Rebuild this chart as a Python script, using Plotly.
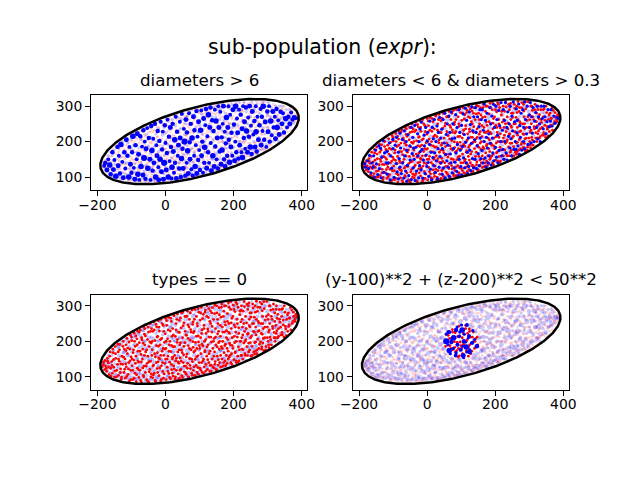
import numpy as np
import plotly.graph_objects as go

# ---------------- data ----------------
# type-0 particles (red), (y, z)
red_pts = [
(-186,128),(-182,141),(-179,120),
(-176,131),(-173,115),(-171,152),(-168,139),(-166,106),(-163,170),(-161,124),
(-158,143),(-156,110),(-154,168),(-152,127),(-150,99),(-148,185),(-146,152),(-143,118),(-141,135),
(-139,170),(-138,104),(-136,144),(-134,191),(-132,122),(-130,93),(-128,158),(-126,135),(-124,200),(-122,112),(-121,178),
(-119,150),(-118,96),(-116,190),(-115,128),(-113,208),(-112,165),(-110,107),(-108,140),(-106,88),(-105,178),(-103,217),(-102,118),(-101,156),
(-99,202),(-98,131),(-96,92),(-95,168),(-93,147),(-92,223),(-90,110),(-89,186),(-87,158),(-86,86),(-84,207),(-83,124),(-82,229),(-81,172),
(-79,141),(-78,98),(-77,196),(-75,118),(-74,232),(-72,163),(-71,85),(-70,210),(-68,150),(-67,178),(-65,104),(-64,240),(-63,130),(-62,220),(-61,190),
(-59,112),(-58,170),(-57,246),(-55,92),(-54,138),(-53,205),(-52,158),(-50,226),(-49,84),(-48,185),(-46,121),(-45,250),(-44,144),(-43,100),(-42,195),(-41,236),
(-39,176),(-38,97),(-37,228),(-35,133),(-34,255),(-33,110),(-31,202),(-30,156),(-29,87),(-27,188),(-26,241),(-25,123),(-24,168),(-23,214),(-22,142),(-21,258),
(-19,103),(-18,229),(-17,150),(-16,190),(-14,88),(-13,262),(-12,131),(-11,208),(-10,172),(-8,115),(-7,245),(-6,96),(-5,160),(-3,197),(-2,138),(-1,221),(0,265),
(1,180),(2,92),(4,245),(5,127),(6,207),(7,158),(9,268),(10,109),(11,190),(12,141),(14,229),(15,95),(16,171),(17,256),(18,120),(19,214),(20,150),
(21,236),(22,102),(23,184),(24,131),(25,272),(27,160),(28,93),(29,214),(30,145),(31,250),(32,118),(34,197),(35,277),(36,170),(37,108),(38,226),(39,138),(40,259),
(41,96),(42,190),(43,153),(44,266),(45,121),(46,238),(47,175),(48,103),(50,210),(51,283),(52,140),(53,162),(54,252),(55,114),(57,196),(58,228),(59,130),(60,271),
(61,107),(62,217),(63,164),(64,285),(65,138),(66,246),(67,188),(68,100),(70,262),(71,151),(72,203),(73,123),(74,233),(75,176),(77,110),(78,288),(79,143),(80,199),
(81,255),(82,118),(83,170),(84,228),(85,104),(86,290),(87,149),(88,197),(90,132),(91,270),(92,180),(93,112),(94,243),(95,159),(96,215),(97,107),(98,282),(99,188),
(101,124),(102,260),(103,210),(104,165),(105,296),(106,140),(107,232),(108,112),(110,187),(111,276),(112,150),(113,245),(114,128),(115,200),(116,174),(117,288),(118,116),(119,222),
(121,158),(122,300),(123,121),(124,235),(125,190),(126,267),(127,140),(128,212),(130,115),(131,172),(132,286),(133,250),(134,133),(135,198),(136,226),(137,150),(138,295),(139,180),
(141,262),(142,125),(143,208),(144,170),(145,302),(146,143),(147,236),(148,190),(150,120),(151,280),(152,158),(153,221),(154,250),(155,133),(156,196),(157,295),(158,178),(159,140),
(161,214),(162,127),(163,268),(164,185),(165,305),(166,150),(167,240),(168,200),(170,131),(171,285),(172,168),(173,226),(174,255),(175,145),(176,192),(177,300),(178,160),(179,230),
(181,138),(182,278),(183,205),(184,172),(185,308),(186,250),(187,155),(188,222),(190,190),(191,290),(192,140),(193,236),(194,165),(195,265),(196,210),(198,180),(199,302),
(201,148),(202,246),(203,196),(204,284),(205,170),(206,226),(207,310),(208,140),(210,262),(211,212),(212,158),(213,296),(214,184),(215,238),(216,145),(218,275),(219,200),
(221,255),(222,160),(223,300),(224,210),(225,178),(226,240),(227,150),(228,285),(230,195),(231,312),(232,228),(233,165),(235,270),(236,205),(238,252),(239,185),
(241,160),(242,290),(243,222),(244,195),(245,308),(246,262),(247,175),(248,240),(250,210),(251,158),(252,280),(254,186),(255,250),(256,305),(258,228),(259,170),
(261,268),(262,196),(263,300),(264,172),(265,240),(266,218),(267,313),(268,165),(270,285),(271,206),(272,256),(274,180),(275,230),(277,296),(279,198),
(281,250),(282,178),(283,305),(284,220),(285,270),(286,195),(287,236),(288,174),(290,292),(291,210),(293,260),(295,185),(297,312),(299,240),
(301,200),(302,275),(303,226),(304,182),(305,300),(306,250),(307,212),(309,288),(311,190),(313,262),(315,236),(317,305),(319,210),
(321,280),(322,200),(324,245),(325,222),(326,300),(328,265),(330,210),(332,236),(334,290),(336,254),(339,218),
(341,270),(342,225),(344,292),(346,246),(348,212),(351,282),(353,235),(356,262),(359,228),
(361,280),(363,246),(365,265),(368,232),(371,288),(374,256),(377,270),
(380,262),(383,276),(386,268),
(-183,134),(-178,146),
(-174,124),(-170,144),(-167,128),(-164,158),(-160,102),
(-157,132),(-155,178),(-153,148),(-149,116),(-147,165),(-144,100),(-140,192),
(-138,150),(-135,176),(-133,112),(-131,136),(-129,99),(-125,186),(-123,155),(-120,121),
(-117,136),(-116,174),(-114,101),(-111,181),(-109,122),(-107,198),(-104,145),(-102,92),(-100,212),
(-98,150),(-96,118),(-94,176),(-92,96),(-91,200),(-88,138),(-87,215),(-85,106),(-83,190),(-81,145),
(-79,120),(-77,226),(-75,172),(-73,90),(-71,142),(-69,204),(-67,125),(-66,195),(-64,100),(-62,160),(-61,236),
(-59,215),(-57,130),(-55,176),(-53,88),(-51,240),(-49,142),(-48,114),(-46,198),(-44,228),(-42,108),(-40,160),
(-39,200),(-37,130),(-36,105),(-33,232),(-32,165),(-30,90),(-28,248),(-27,140),(-25,212),(-23,112),(-21,186),(-20,153),
(-19,240),(-17,125),(-15,205),(-14,160),(-12,92),(-10,250),(-9,140),(-7,180),(-5,228),(-4,108),(-2,178),(0,150),
(2,200),(3,258),(5,150),(7,115),(8,232),(10,172),(12,98),(13,200),(15,265),(17,135),(18,188),(20,110),
(21,155),(23,218),(24,275),(26,122),(27,185),(29,100),(31,232),(32,152),(33,262),(35,205),(37,142),(38,92),(40,176),
(41,225),(43,118),(44,196),(46,144),(47,280),(49,168),(50,98),(52,244),(54,186),(55,130),(57,270),(58,112),(60,218),
(61,156),(63,270),(64,124),(66,208),(67,98),(69,240),(70,180),(72,132),(73,280),(75,226),(77,150),(78,104),(80,248),
(81,183),(82,224),(84,128),(85,262),(87,174),(88,102),(90,214),(91,156),(93,250),(95,126),(96,292),(97,198),(99,140),
(101,180),(103,280),(104,118),(106,222),(107,192),(109,264),(110,145),(112,110),(113,236),(115,170),(116,282),(118,205),(119,135),
(121,270),(122,184),(124,148),(125,228),(127,292),(128,165),(130,256),(131,132),(133,212),(134,116),(136,280),(137,242),(139,128),
(141,200),(142,158),(144,278),(145,135),(147,212),(148,120),(150,300),(152,184),(153,262),(155,148),(156,228),(158,275),(159,200),
(161,245),(162,160),(164,296),(165,128),(167,180),(168,226),(170,270),(171,140),(173,300),(174,188),(176,246),(177,132),(179,210),
(181,180),(182,256),(184,150),(185,226),(187,296),(188,195),(190,160),(192,312),(193,252),(195,135),(196,188),(198,270),
(201,290),(202,214),(204,168),(205,240),(207,145),(208,200),(210,305),(211,250),(213,142),(215,222),(217,176),(219,285),
(221,200),(222,288),(224,160),(225,262),(227,218),(228,176),(230,250),(232,298),(234,200),(235,160),(237,236),(239,305),
(241,220),(243,300),(244,170),(246,244),(248,280),(249,196),(251,268),(253,215),(255,160),(257,294),(259,250),
(261,226),(262,164),(264,282),(265,198),(267,262),(269,176),(271,296),(272,228),(274,252),(276,192),(278,310),
(281,222),(283,184),(284,286),(286,250),(287,208),(289,312),(292,240),(294,176),(296,270),(299,210),
(301,262),(303,190),(305,232),(307,300),(309,205),(311,270),(314,242),(316,290),(319,225),
(321,256),(323,210),(325,290),(327,230),(330,276),(332,214),(335,262),(338,240),
(341,290),(343,218),(346,260),(349,300),(352,242),(355,216),(358,275),
(362,242),(364,266),(367,295),(372,250),(376,282),
(381,256),(385,274),
]

# type-1 particles with medium diameters (blue), (y, z)
blue_pts = [
(-184,138),(-181,128),
(-175,146),(-172,124),(-169,161),(-165,112),(-162,140),
(-159,128),(-157,160),(-155,100),(-151,176),(-149,137),(-145,107),(-142,188),
(-140,124),(-137,181),(-135,98),(-133,156),(-129,203),(-127,113),(-125,168),(-120,140),
(-118,172),(-117,108),(-114,140),(-111,196),(-109,92),(-107,160),(-104,125),(-101,206),(-100,180),
(-97,99),(-94,190),(-91,138),(-90,212),(-88,115),(-85,170),(-84,95),(-82,152),(-80,224),(-80,128),
(-78,182),(-76,110),(-73,206),(-72,140),(-69,97),(-67,230),(-66,160),(-63,117),(-62,200),(-60,88),(-60,175),
(-58,133),(-56,220),(-54,104),(-51,188),(-50,148),(-47,240),(-47,93),(-44,166),(-42,212),(-41,126),(-40,182),
(-38,150),(-36,246),(-35,90),(-33,184),(-31,117),(-28,222),(-27,160),(-25,98),(-24,200),(-22,132),(-21,236),(-20,172),
(-18,120),(-17,255),(-15,178),(-13,97),(-11,148),(-9,218),(-8,188),(-6,110),(-4,240),(-3,162),(-1,130),(0,202),
(2,226),(3,141),(5,102),(7,192),(8,258),(10,122),(12,170),(13,92),(15,240),(17,155),(18,208),(20,132),
(21,262),(22,168),(24,113),(26,200),(27,146),(29,244),(31,95),(32,180),(33,226),(35,128),(37,268),(38,158),(40,210),
(41,140),(43,235),(44,108),(45,180),(47,262),(48,126),(50,196),(52,280),(53,98),(55,164),(56,220),(58,146),(59,250),
(61,190),(62,128),(64,272),(65,102),(67,226),(68,165),(70,140),(71,284),(73,208),(74,112),(76,250),(77,180),(79,126),
(81,210),(82,142),(84,276),(85,168),(87,116),(88,240),(89,192),(91,104),(93,290),(94,150),(96,226),(97,176),(99,130),
(101,246),(102,106),(104,186),(106,278),(107,154),(109,220),(110,126),(112,294),(113,198),(115,140),(116,260),(118,170),(119,110),
(121,210),(122,130),(124,284),(125,176),(127,248),(128,118),(130,195),(131,298),(133,152),(134,230),(136,126),(137,270),(139,205),
(141,150),(142,296),(144,226),(145,124),(147,188),(148,270),(150,166),(152,242),(153,132),(155,290),(156,210),(158,152),(159,262),
(161,175),(162,290),(164,140),(165,232),(167,200),(168,306),(170,154),(171,260),(173,128),(174,212),(176,280),(177,182),(179,140),
(181,222),(182,160),(184,296),(185,195),(187,250),(188,134),(190,272),(192,210),(193,168),(195,305),(196,146),(198,240),
(201,184),(202,300),(204,156),(205,262),(207,218),(208,140),(210,288),(211,175),(213,245),(215,200),(217,310),(219,160),
(221,232),(222,178),(224,290),(225,150),(227,260),(228,200),(230,310),(232,168),(234,240),(235,148),(237,284),(239,215),
(241,250),(243,182),(244,300),(246,208),(248,160),(249,272),(251,230),(253,312),(255,178),(257,256),(259,200),
(261,178),(262,292),(264,225),(265,260),(267,188),(269,306),(271,164),(272,245),(274,212),(276,280),(278,176),
(281,290),(283,200),(284,240),(286,312),(287,180),(289,262),(292,222),(294,300),(296,192),(299,275),
(301,240),(303,310),(305,196),(307,270),(309,224),(311,296),(314,200),(316,258),(319,282),
(321,240),(323,300),(325,208),(327,270),(330,250),(332,200),(335,300),(338,265),
(341,236),(343,300),(346,270),(349,222),(352,256),(355,290),(358,242),
(362,258),(364,290),(367,244),(372,272),(376,252),
(382,268),(387,264),
]

# type-1 particles with large diameters (blue), (y, z, diameter)
big_pts = [
(-180,132,7),(-177,140,8),
(-172,120,9),(-168,150,7),(-164,134,10),(-161,108,8),
(-156,170,8),(-153,121,9),(-150,148,7),(-146,102,10),(-141,185,8),
(-139,132,9),(-137,160,7),(-134,110,8),(-131,192,10),(-127,143,7),(-124,98,9),(-121,170,8),
(-118,124,7),(-115,205,9),(-112,160,8),(-108,100,10),(-106,185,7),(-103,136,9),(-100,112,8),
(-98,170,8),(-96,215,10),(-93,126,7),(-90,94,9),(-88,190,8),(-85,150,7),(-83,222,9),(-81,108,10),
(-79,164,9),(-77,92,7),(-74,215,8),(-72,130,10),(-69,186,7),(-66,106,9),(-65,232,8),(-63,154,11),(-61,200,7),
(-59,95,8),(-57,180,9),(-54,238,7),(-52,125,10),(-49,210,8),(-46,150,9),(-44,92,7),(-42,244,8),(-40,175,10),
(-38,118,8),(-36,208,7),(-34,140,9),(-31,250,8),(-29,100,10),(-27,190,7),(-25,160,9),(-23,230,8),(-21,128,7),(-20,92,9),
(-18,202,8),(-16,150,10),(-14,256,7),(-12,115,9),(-10,178,8),(-8,228,7),(-6,94,9),(-4,140,11),(-2,246,8),(0,196,7),
(2,120,9),(4,168,8),(6,262,7),(8,100,10),(10,214,8),(12,145,7),(14,240,9),(16,185,8),(18,96,7),(19,128,10),
(21,250,8),(23,172,9),(25,112,7),(27,205,10),(28,140,8),(30,270,7),(32,96,9),(34,228,8),(36,160,7),(38,190,9),(40,124,8),
(42,256,7),(43,210,9),(45,100,8),(47,152,10),(48,278,7),(50,180,8),(52,124,9),(54,236,7),(56,200,11),(58,104,8),(60,262,9),
(62,140,7),(63,226,8),(65,174,10),(67,110,9),(69,280,7),(71,198,8),(72,150,9),(74,250,8),(76,122,7),(78,210,10),(80,104,8),
(82,270,9),(84,160,7),(85,232,8),(87,130,10),(89,190,7),(91,286,8),(92,110,9),(94,214,7),(96,148,8),(97,256,9),(99,176,7),
(101,120,8),(103,232,10),(105,288,7),(106,160,9),(108,200,8),(110,112,7),(112,265,9),(114,140,8),(115,184,10),(117,246,7),(119,292,8),
(121,125,9),(123,215,7),(125,170,8),(126,276,10),(128,140,7),(130,240,9),(132,296,8),(133,196,7),(135,118,9),(137,260,8),(139,160,10),
(141,230,8),(143,130,9),(145,290,7),(146,186,8),(148,258,10),(150,150,7),(152,210,9),(154,124,8),(155,300,7),(157,240,9),(159,172,8),
(161,284,7),(163,136,9),(165,212,8),(166,176,10),(168,250,7),(170,300,9),(172,150,8),(174,228,7),(175,130,9),(177,195,8),(179,268,10),
(181,160,8),(183,240,9),(185,300,7),(186,205,8),(188,142,10),(190,276,7),(192,185,9),(194,225,8),(196,160,7),(198,290,9),
(201,248,8),(203,146,9),(205,200,7),(206,300,10),(208,170,8),(210,265,7),(212,225,9),(214,152,8),(216,290,7),(218,190,9),
(221,276,8),(223,170,7),(225,236,9),(226,155,10),(228,300,7),(230,210,8),(232,256,9),(234,180,7),(236,296,8),(238,230,10),
(241,170,9),(243,268,7),(245,214,8),(247,300,9),(249,185,10),(251,245,7),(253,165,8),(255,285,9),(258,220,7),
(261,258,8),(263,185,9),(265,300,7),(266,228,10),(268,172,8),(270,270,7),(273,205,9),(276,246,8),(279,292,7),
(281,190,9),(283,270,8),(285,230,7),(287,300,10),(290,205,8),(293,255,9),(296,185,7),(299,285,8),
(301,228,9),(304,300,7),(306,200,8),(309,258,10),(312,218,7),(315,285,9),(318,240,8),
(321,270,7),(323,208,9),(326,292,8),(328,240,10),(331,260,7),(334,220,9),(338,284,8),
(342,250,9),(345,280,7),(348,226,8),(353,265,10),(357,240,7),
(361,270,8),(365,250,9),(369,282,7),(373,262,8),
(378,268,9),(383,266,7),
]

RED_DIAM = 5.0      # diameter of the type-0 particles
BLUE_DIAM = 5.8     # diameter of the medium type-1 particles

# container ellipse (center y, center z, width, height, angle in degrees)
ELLIPSE = dict(cy=100.0, cz=200.0, width=600.0, height=194.0, angle=14.5)

SUPTITLE = "sub-population (<i>expr</i>):"
TITLES = ["diameters > 6", "diameters < 6 & diameters > 0.3",
          "types == 0", "(y-100)**2 + (z-200)**2 < 50**2"]
X_TICKS = [-200, 0, 200, 400]
X_TICKTEXT = ["\u2212200", "0", "200", "400"]
Y_TICKS = [100, 200, 300]
Y_TICKTEXT = ["100", "200", "300"]

# ---------------- assemble the population ----------------
y = np.array([p[0] for p in red_pts] + [p[0] for p in blue_pts] + [p[0] for p in big_pts], float)
z = np.array([p[1] for p in red_pts] + [p[1] for p in blue_pts] + [p[1] for p in big_pts], float)
diameters = np.array([RED_DIAM] * len(red_pts) + [BLUE_DIAM] * len(blue_pts) + [p[2] for p in big_pts], float)
types = np.array([0] * len(red_pts) + [1] * (len(blue_pts) + len(big_pts)))

masks = [
    diameters > 6,
    (diameters < 6) & (diameters > 0.3),
    types == 0,
    (y - 100) ** 2 + (z - 200) ** 2 < 50 ** 2,
]

SIZE_SCALE = 0.55
sizes = diameters * SIZE_SCALE

t = np.linspace(0, 2 * np.pi, 361)
a, b = ELLIPSE["width"] / 2, ELLIPSE["height"] / 2
th = np.deg2rad(ELLIPSE["angle"])
ell_y = ELLIPSE["cy"] + a * np.cos(t) * np.cos(th) - b * np.sin(t) * np.sin(th)
ell_z = ELLIPSE["cz"] + a * np.cos(t) * np.sin(th) + b * np.sin(t) * np.cos(th)

# ---------------- figure ----------------
W, H = 640, 480
FONT = "DejaVu Sans"
panels_px = [  # (left, right, top, bottom) in pixels
    (80.7, 304.3, 95.0, 190.0),
    (351.2, 574.8, 95.0, 190.0),
    (80.7, 304.3, 294.7, 389.7),
    (351.2, 574.8, 294.7, 389.7),
]
X_RANGE = [-218.7, 416.5]
Y_RANGE = [63.5, 331.4]

fig = go.Figure()
layout = dict(
    width=W, height=H, autosize=False,
    margin=dict(l=0, r=0, t=0, b=0),
    paper_bgcolor="white", plot_bgcolor="white",
    showlegend=False,
    font=dict(family=FONT, color="black"),
)
annotations = []

for i, (l, r, tp, bt) in enumerate(panels_px):
    k = "" if i == 0 else str(i + 1)
    xa, ya = "x" + k, "y" + k
    axis_common = dict(
        showline=True, linecolor="black", linewidth=1, mirror=True,
        ticks="outside", ticklen=5, tickwidth=1, tickcolor="black",
        showgrid=False, zeroline=False,
        tickfont=dict(family=FONT, size=13.9, color="black"),
    )
    layout["xaxis" + k] = dict(
        domain=[l / W, r / W], range=X_RANGE, anchor=ya, ticklabelstandoff=-3,
        tickmode="array", tickvals=X_TICKS, ticktext=X_TICKTEXT, **axis_common)
    layout["yaxis" + k] = dict(
        domain=[1 - bt / H, 1 - tp / H], range=Y_RANGE, anchor=xa,
        tickmode="array", tickvals=Y_TICKS, ticktext=Y_TICKTEXT, **axis_common)

    bg0 = types == 0
    bg1 = types == 1
    fig.add_trace(go.Scatter(x=y[bg1], y=z[bg1], mode="markers", xaxis=xa, yaxis=ya,
                             marker=dict(size=sizes[bg1], color="rgba(0,0,255,0.32)", line=dict(width=0)),
                             hoverinfo="skip"))
    fig.add_trace(go.Scatter(x=y[bg0], y=z[bg0], mode="markers", xaxis=xa, yaxis=ya,
                             marker=dict(size=sizes[bg0], color="rgba(255,0,0,0.25)", line=dict(width=0)),
                             hoverinfo="skip"))
    m = masks[i]
    s0 = m & (types == 0)
    s1 = m & (types == 1)
    fig.add_trace(go.Scatter(x=y[s0], y=z[s0], mode="markers", xaxis=xa, yaxis=ya,
                             marker=dict(size=sizes[s0], color="#ff0000", opacity=1, line=dict(width=0))))
    fig.add_trace(go.Scatter(x=y[s1], y=z[s1], mode="markers", xaxis=xa, yaxis=ya,
                             marker=dict(size=sizes[s1], color="#0000ff", opacity=1, line=dict(width=0))))
    fig.add_trace(go.Scatter(x=ell_y, y=ell_z, mode="lines", xaxis=xa, yaxis=ya,
                             line=dict(color="black", width=2.5), hoverinfo="skip"))

    annotations.append(dict(
        text=TITLES[i], xref="paper", yref="paper",
        x=(l + r) / 2 / W, y=1 - (tp - 3.5) / H, xanchor="center", yanchor="bottom",
        showarrow=False, font=dict(family=FONT, size=16.67, color="black")))

annotations.append(dict(
    text=SUPTITLE, xref="paper", yref="paper", x=0.5, y=1 - 47 / H,
    xanchor="center", yanchor="middle", showarrow=False,
    font=dict(family=FONT, size=20.5, color="black")))

layout["annotations"] = annotations
fig.update_layout(**layout)
fig.write_html("out.html")
